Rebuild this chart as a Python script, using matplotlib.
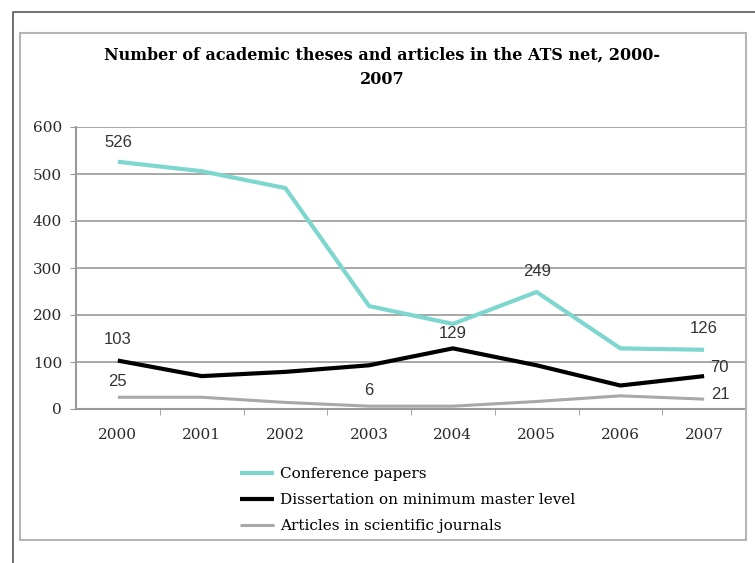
import matplotlib
matplotlib.use("Agg")
import matplotlib.pyplot as plt
from matplotlib.lines import Line2D
from matplotlib.patches import Rectangle

# data
years = ["2000", "2001", "2002", "2003", "2004", "2005", "2006", "2007"]
conference = [526, 506, 470, 219, 181, 249, 129, 126]
dissertation = [103, 70, 79, 93, 129, 93, 50, 70]
articles = [25, 25, 14, 6, 6, 16, 28, 21]
yticks = [0, 100, 200, 300, 400, 500, 600]

W, H = 755, 563
fig = plt.figure(figsize=(W / 100, H / 100), dpi=100)

serif = "DejaVu Serif"
sans = "Liberation Sans"

# frames around the chart
fig.add_artist(Line2D([13 / W, 13 / W, 1.0], [0.0, 1 - 12 / H, 1 - 12 / H],
                      transform=fig.transFigure, color="#666666", lw=1.3))
fig.add_artist(Rectangle((20 / W, 1 - 540 / H), (746 - 20) / W, (540 - 33) / H,
                         transform=fig.transFigure, fill=False,
                         edgecolor="#b5b5b5", lw=1.5))

ax = fig.add_axes([76 / W, 1 - 409 / H, (746 - 76) / W, (409 - 127) / H])
x = list(range(len(years)))

ax.plot(x, conference, color="#7dd7cf", lw=3, solid_capstyle="butt",
        label="Conference papers", zorder=3)
ax.plot(x, dissertation, color="#000000", lw=3, solid_capstyle="butt",
        label="Dissertation on minimum master level", zorder=3)
ax.plot(x, articles, color="#a8a8a8", lw=2.2, solid_capstyle="butt",
        label="Articles in scientific journals", zorder=3)

ax.set_xlim(-0.5, len(years) - 0.5)
ax.set_ylim(0, 600)
ax.set_yticks(yticks)
ax.set_yticklabels([str(v) for v in yticks], fontfamily=serif, fontsize=11,
                   color="#2a2a2a")
ax.set_xticks(x)
ax.set_xticklabels(years, fontfamily=serif, fontsize=11, color="#2a2a2a")
ax.tick_params(axis="x", length=0, pad=14)
ax.tick_params(axis="y", length=4, color="#999999", pad=6)
# tick marks between categories
ax.set_xticks([i + 0.5 for i in x[:-1]], minor=True)
ax.tick_params(axis="x", which="minor", length=4, color="#999999")

ax.grid(axis="y", color="#a0a0a0", lw=1.3)
ax.set_axisbelow(True)
for side in ["top", "right"]:
    ax.spines[side].set_visible(False)
ax.spines["left"].set_color("#999999")
ax.spines["bottom"].set_color("#999999")
ax.spines["left"].set_linewidth(1.5)
ax.spines["bottom"].set_linewidth(1.5)

# data labels
def label(i, v, dx, dy, ha="center"):
    ax.annotate(str(v), (i, v), xytext=(dx, dy), textcoords="offset points",
                ha=ha, va="center", fontfamily=sans, fontsize=12,
                color="#333333")

label(0, conference[0], 0, 14)
label(5, conference[5], 0, 15)
label(7, conference[7], 0, 15)
label(0, dissertation[0], 0, 15)
label(4, dissertation[4], 0, 11)
label(7, dissertation[7], 4, 6, ha="left")
label(0, articles[0], 0, 11)
label(3, articles[3], 0, 11)
label(7, articles[7], 5, 3, ha="left")

fig.text(382 / W, 1 - 55 / H, "Number of academic theses and articles in the ATS net, 2000-",
         ha="center", va="center", fontfamily=serif, fontweight="bold",
         fontsize=11.5)
fig.text(382 / W, 1 - 80 / H, "2007", ha="center", va="center",
         fontfamily=serif, fontweight="bold", fontsize=11.5)

fig.legend(loc="upper left", bbox_to_anchor=(240 / W, 1 - 467 / H),
           frameon=False, borderpad=0, borderaxespad=0, handlelength=2.2,
           handletextpad=0.4, labelspacing=0.8,
           prop={"family": serif, "size": 11})

fig.savefig("out.png", dpi=100)
